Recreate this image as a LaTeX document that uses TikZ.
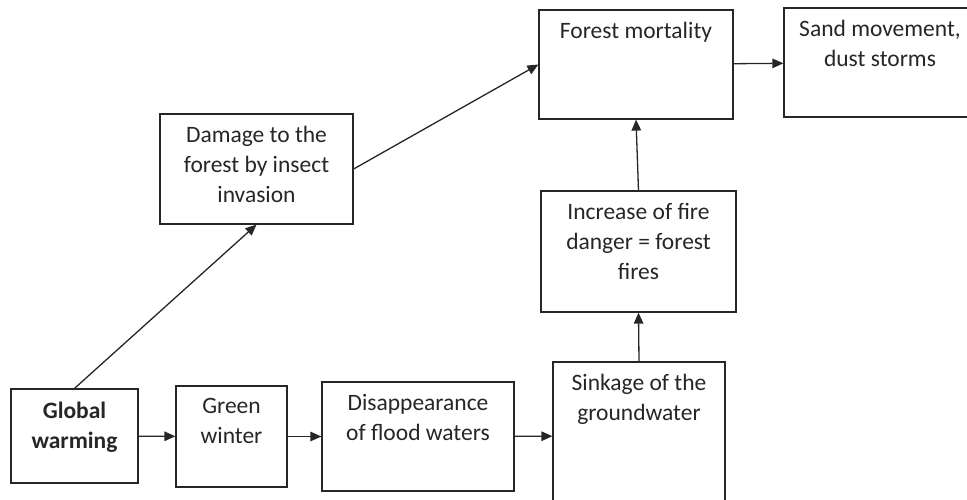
\documentclass[tikz,border=0pt]{standalone}
\usepackage{fontspec}
\setmainfont{Carlito}
\usetikzlibrary{arrows.meta}

\tikzset{
  box/.style={draw=black!85, line width=1.2pt, inner sep=0pt},
  lbl/.style={anchor=north, align=center, text=black!85, inner sep=0pt,
    yshift=-13pt, font=\fontsize{23.5}{30}\selectfont},
  txt/.style={label={[lbl]north:{#1}}},
  boldtxt/.style={label={[lbl, font=\fontsize{23.5}{30}\selectfont\bfseries]north:{#1}}},
  arr/.style={-{Triangle[length=11pt,width=9.5pt]}, line width=1.3pt, color=black!85}
}

\begin{document}
\begin{tikzpicture}[x=1pt, y=-1pt]
    \useasboundingbox (0,0) rectangle (967,499);
    \clip (0,0) rectangle (967,499);

    % lower row
    \node (warm) [box, minimum width=127pt, minimum height=94pt,
      boldtxt={Global\\warming}] at (74.5,436) {};
    \node (green) [box, minimum width=111pt, minimum height=101pt,
      txt={Green\\winter}] at (231.5,436.5) {};
    \node (flood) [box, minimum width=192pt, minimum height=109pt,
      txt={Disappearance\\of flood waters}] at (418,436.5) {};
    \node (ground) [box, minimum width=172pt, minimum height=148pt,
      txt={Sinkage of the\\groundwater}] at (639,436) {};

    % upper part
    \node (insect) [box, minimum width=193pt, minimum height=110pt,
      txt={Damage to the\\forest by insect\\invasion}] at (256.5,169) {};
    \node (fire) [box, minimum width=195pt, minimum height=121pt,
      txt={Increase of fire\\danger = forest\\fires}] at (638.5,251.5) {};
    \node (mort) [box, minimum width=194pt, minimum height=109pt,
      txt={Forest mortality}] at (636,64.5) {};
    \node (sand) [box, minimum width=192pt, minimum height=109pt,
      txt={Sand movement,\\dust storms}] at (880,62.5) {};

    \path[arr] (warm) edge (green);
    \path[arr] (green) edge (flood);
    \path[arr] (flood) edge (ground);
    \path[arr] (ground.north) edge (fire.south);
    \path[arr] (fire.north) edge (mort.south);
    \path[arr] (warm.north) edge (insect.south);
    \path[arr] (insect.east) edge (mort.west);
    \path[arr] (mort) edge (sand);
  \end{tikzpicture}
\end{document}
